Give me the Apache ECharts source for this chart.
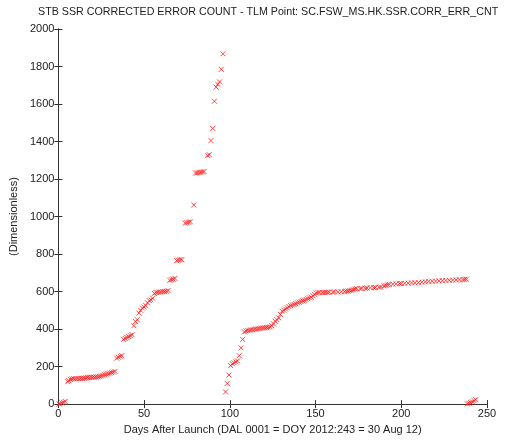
<!DOCTYPE html>
<html>
<head>
<meta charset="utf-8">
<script src="https://cdn.jsdelivr.net/npm/echarts@6/dist/echarts.min.js"></script>
<style>html,body{margin:0;padding:0;background:#fff;}#c{width:506px;height:440px;}</style>
</head>
<body>
<div id="c"></div>
<script>
var titleText = 'STB SSR CORRECTED ERROR COUNT - TLM Point: SC.FSW_MS.HK.SSR.CORR_ERR_CNT';
var xName = 'Days After Launch (DAL 0001 = DOY 2012:243 = 30 Aug 12)';
var yName = '(Dimensionless)';
var xTicks = [0, 50, 100, 150, 200, 250];
var yTicks = [0, 200, 400, 600, 800, 1000, 1200, 1400, 1600, 1800, 2000];

var days = [
  0.5,1,2,3,4,
  5.5,6,7,8,9,10,11,12,13,14,15,16,17,18,19,20,21,22,23,24,25,26,27,28,29,30,31,32,33,
  34,35,36,37,38,39,40,41,42,43,44,45,46,47,48,49,50,51,52,53,54,55,56,57,58,59,60,61,62,63,64,
  65,66,67,68,69,70,71,72,74,75,76,77,79,80,81,82,83,84,85,87,88,89,90,91,92,93,94,95,96,
  97.5,98.5,99.5,100.5,101.5,102.5,103.5,104.5,105.5,106.5,107.5,108.5,109.5,110.5,111.5,112.5,113.5,114.5,115.5,116.5,117.5,118.5,119.5,120.5,121.5,122.5,123.5,124.5,125.5,126.5,127.5,128.5,129.5,130.5,131.5,132.5,133.5,134.5,135.5,136.5,137.5,138.5,139.5,140.5,141.5,142.5,143.5,144.5,145.5,146.5,147.5,148.5,149.5,150.5,151.5,152.5,
  154,155,156,157,158,160,161,163,165,167,168,169,170,171,172,173,174,176,177,179,180,182,184,185,187,188,190,191,192,193,195,197,199,200,202,204,206,208,210,212,214,216,218,220,222,224,226,228,230,232,234,236,237,238,
  238.5,239.5,240.5,241.5,242.5,243.5
];
var counts = [
  0,3,6,10,14,
  120,126,132,134,135,135,136,136,137,137,138,139,142,142,143,143,143,144,145,148,150,153,156,160,162,165,168,171,174,
  245,250,255,258,345,350,355,360,365,370,418,440,450,485,500,512,518,525,540,552,556,565,590,595,596,597,598,600,600,602,605,
  660,663,666,670,765,768,770,770,965,968,970,972,1062,1232,1233,1235,1236,1238,1240,1325,1330,1405,1470,1615,1690,1705,1718,1785,1868,
  65,110,155,205,215,220,225,230,258,300,345,385,390,392,394,396,397,399,400,402,403,405,406,407,408,410,412,418,428,442,450,460,478,495,500,507,513,520,525,528,531,535,540,543,547,551,554,558,562,566,570,578,585,592,594,595,
  595,595,596,596,597,597,598,598,599,600,602,603,605,607,610,613,615,616,617,618,619,620,621,622,623,624,630,633,636,638,640,641,642,643,644,645,646,647,648,650,652,654,655,656,657,658,659,660,661,662,663,664,665,666,
  2,4,8,12,18,24
];

var points = days.map(function (d, i) { return [d, counts[i]]; });

var axisColor = '#333';
var labelFont = { color: '#222', fontFamily: 'Liberation Sans', fontSize: 11 };
var plain = function (v) { return String(v); };

var chart = echarts.init(document.getElementById('c'), null, { renderer: 'canvas' });
chart.setOption({
  animation: false,
  backgroundColor: '#fff',
  title: {
    text: titleText,
    left: 38, top: 7, padding: 0,
    textStyle: { color: '#222', fontFamily: 'Liberation Sans', fontSize: 10.7, fontWeight: 'normal' }
  },
  grid: { left: 57, right: 19, top: 29, bottom: 31, containLabel: false },
  xAxis: [{
    type: 'value', min: xTicks[0], max: xTicks[xTicks.length - 1], interval: 50,
    name: xName, nameLocation: 'middle', nameGap: 17,
    nameTextStyle: labelFont,
    axisLine: { show: true, lineStyle: { color: axisColor, width: 1 } },
    axisTick: { show: true, inside: true, length: 4, lineStyle: { color: axisColor } },
    axisLabel: Object.assign({ margin: 4, formatter: plain }, labelFont),
    splitLine: { show: false }
  }, {
    type: 'value', position: 'top', min: xTicks[0], max: xTicks[xTicks.length - 1], interval: 50,
    axisLine: { show: true, lineStyle: { color: axisColor, width: 1 } },
    axisTick: { show: true, inside: true, length: 4, lineStyle: { color: axisColor } },
    axisLabel: { show: false }, splitLine: { show: false }
  }],
  yAxis: [{
    type: 'value', min: yTicks[0], max: yTicks[yTicks.length - 1], interval: 200,
    name: yName, nameLocation: 'middle', nameGap: 38, nameRotate: 90,
    nameTextStyle: labelFont,
    axisLine: { show: true, lineStyle: { color: axisColor, width: 1 } },
    axisTick: { show: true, inside: true, length: 4, lineStyle: { color: axisColor } },
    axisLabel: Object.assign({ margin: 4, formatter: plain }, labelFont),
    splitLine: { show: false }
  }, {
    type: 'value', position: 'right', min: yTicks[0], max: yTicks[yTicks.length - 1], interval: 200,
    axisLine: { show: true, lineStyle: { color: axisColor, width: 1 } },
    axisTick: { show: true, inside: true, length: 4, lineStyle: { color: axisColor } },
    axisLabel: { show: false }, splitLine: { show: false }
  }],
  series: [{
    type: 'scatter',
    data: points,
    symbol: 'path://M0,0L10,10M10,0L0,10',
    symbolSize: 5,
    itemStyle: { color: 'rgba(0,0,0,0)', borderColor: '#ff1a1a', borderWidth: 1 }
  }]
});
</script>
</body>
</html>
